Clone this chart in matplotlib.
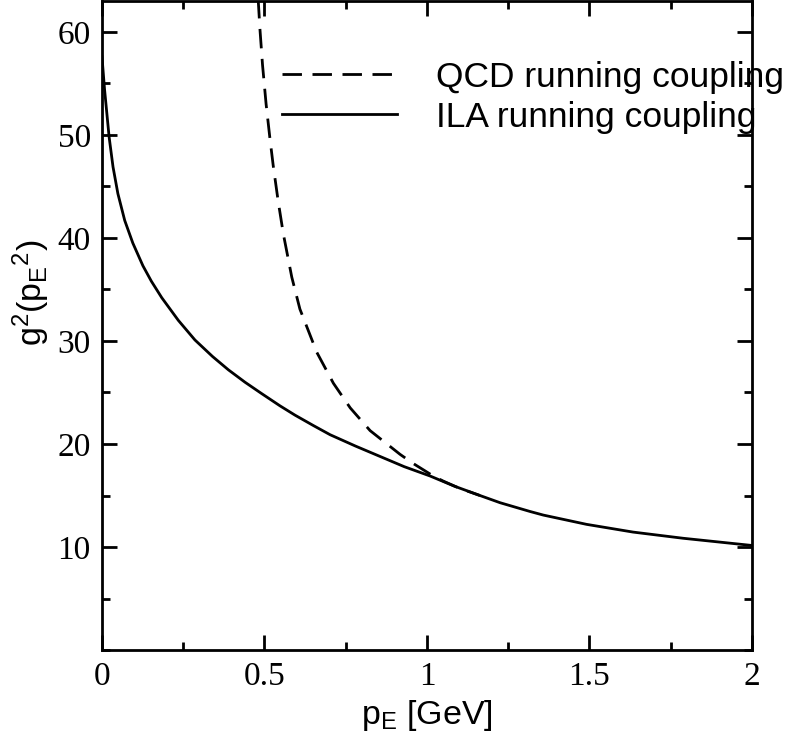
import matplotlib
matplotlib.use("Agg")
from matplotlib import pyplot as plt
from matplotlib.ticker import MultipleLocator

plt.rcParams['font.family'] = ['Liberation Sans', 'DejaVu Sans']
plt.rcParams['mathtext.fontset'] = 'custom'
plt.rcParams['mathtext.rm'] = 'Liberation Sans'
plt.rcParams['mathtext.it'] = 'Liberation Sans'
plt.rcParams['mathtext.default'] = 'regular'

# values
ila_p = [0.0, 0.008, 0.015, 0.022, 0.034, 0.049, 0.070, 0.095, 0.126, 0.152,
         0.184, 0.235, 0.286, 0.340, 0.389, 0.440, 0.491, 0.548, 0.594, 0.650,
         0.702, 0.780, 0.855, 0.930, 1.009, 1.085, 1.163, 1.225, 1.317, 1.358,
         1.491, 1.634, 1.788, 2.0]
ila_g2 = [57.6, 54.4, 52.1, 49.8, 46.9, 44.3, 41.7, 39.5, 37.3, 35.8,
          34.2, 32.0, 30.1, 28.5, 27.2, 26.0, 24.9, 23.7, 22.8, 21.8,
          20.9, 19.8, 18.8, 17.8, 16.9, 15.9, 15.0, 14.3, 13.45, 13.1,
          12.2, 11.45, 10.85, 10.15]

qcd_p = [0.480, 0.486, 0.494, 0.505, 0.517, 0.527, 0.542, 0.558, 0.584,
         0.609, 0.661, 0.712, 0.764, 0.825, 0.917, 0.958, 1.019, 1.050,
         1.100, 1.163]
qcd_g2 = [63.5, 60.3, 56.8, 53.0, 49.6, 47.0, 43.6, 40.4, 36.2,
          33.1, 28.9, 25.9, 23.5, 21.3, 19.0, 18.1, 16.9, 16.4,
          15.7, 15.0]

labels = ["QCD running coupling", "ILA running coupling"]

fig = plt.figure(figsize=(7.88, 7.37), dpi=100)
ax = fig.add_axes([0.1294, 0.118, 0.8249, 0.8806])

ax.plot(qcd_p, qcd_g2, color='black', lw=2.0, dashes=(7, 3.8), label=labels[0])
ax.plot(ila_p, ila_g2, color='black', lw=2.0, label=labels[1])

ax.set_xlim(0, 2)
ax.set_ylim(0, 63)
ax.xaxis.set_minor_locator(MultipleLocator(0.25))
ax.yaxis.set_minor_locator(MultipleLocator(5))
ax.set_xticks([0, 0.5, 1, 1.5, 2])
ax.set_xticklabels(['0', '0.5', '1', '1.5', '2'])
ax.set_yticks([10, 20, 30, 40, 50, 60])

for s in ax.spines.values():
    s.set_linewidth(2.0)
ax.tick_params(which='both', direction='in', top=True, right=True, width=2.0)
ax.tick_params(which='major', length=11, pad=8)
ax.tick_params(which='minor', length=6)
for t in ax.get_xticklabels() + ax.get_yticklabels():
    t.set_family('Liberation Serif')
    t.set_fontsize(24)

ax.set_xlabel('p$_E$ [GeV]', fontsize=24.5)
ax.set_ylabel('g$^2$(p$_E$$^2$)', fontsize=24.5)
ax.xaxis.set_label_coords(0.5, -0.074)
ax.yaxis.set_label_coords(-0.077, 0.55)

leg = ax.legend(loc='upper left', bbox_to_anchor=(0.255, 0.93), frameon=False,
                fontsize=25.5, handlelength=3.25, handletextpad=1.1, labelspacing=0.2,
                borderaxespad=0)
leg.set_zorder(5)

fig.savefig('out.png', dpi=100)
